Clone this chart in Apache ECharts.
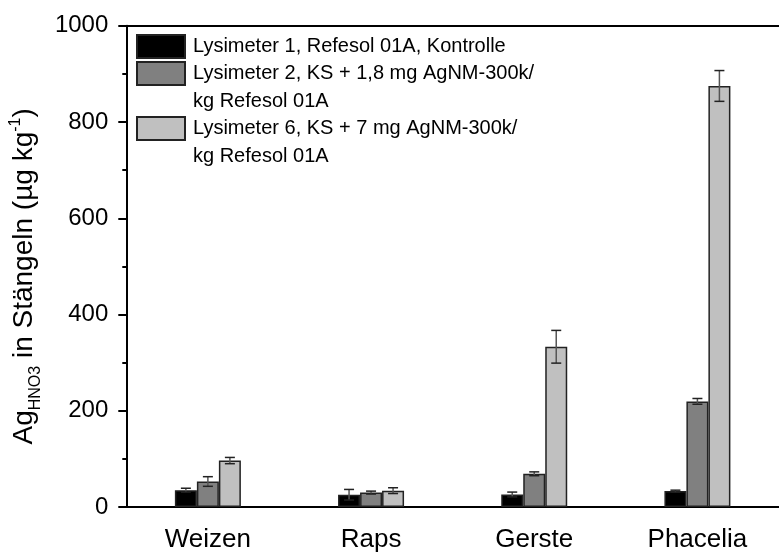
<!DOCTYPE html>
<html>
<head>
<meta charset="utf-8">
<script src="https://cdn.jsdelivr.net/npm/echarts@6/dist/echarts.min.js"></script>
<style>
  html, body { margin: 0; padding: 0; background: #fff; }
  #chart { width: 779px; height: 553px; }
</style>
</head>
<body>
<div id="chart"></div>
<script>
// Plant species (x categories)
const categories = ['Weizen', 'Raps', 'Gerste', 'Phacelia'];

// Series labels
const seriesNames = [
  'Lysimeter 1, Refesol 01A, Kontrolle',
  'Lysimeter 2, KS + 1,8 mg AgNM-300k/\nkg Refesol 01A',
  'Lysimeter 6, KS + 7 mg AgNM-300k/\nkg Refesol 01A'
];

// Ag (HNO3) in stems, µg/kg: means and standard deviations
const lys1Mean = [35, 25.5, 26, 33];
const lys1Sd   = [4, 11, 5, 2];
const lys2Mean = [53, 30, 69, 219.5];
const lys2Sd   = [10, 3, 4, 6];
const lys6Mean = [96.5, 34, 333, 875];
const lys6Sd   = [6.5, 6, 34, 32];

// Y axis ticks
const yMin = 0, yMax = 1000, yStep = 200;

const FONT = 'Liberation Sans, Arial, sans-serif';
const fills = ['#000000', '#808080', '#c0c0c0'];
const BAR_W = 22;

const means = [lys1Mean, lys2Mean, lys6Mean];
const sds = [lys1Sd, lys2Sd, lys6Sd];

const chart = echarts.init(document.getElementById('chart'));

const barSeries = means.map((m, s) => ({
  name: seriesNames[s],
  type: 'bar',
  data: m,
  barWidth: BAR_W,
  barGap: '0%',
  itemStyle: { color: fills[s], borderColor: '#222', borderWidth: 1.5 },
  z: 2
}));

const errSeries = means.map((m, s) => ({
  type: 'custom',
  name: 'err' + s,
  z: 5,
  silent: true,
  data: m.map((v, i) => [i, v, sds[s][i]]),
  renderItem: function (params, api) {
    const i = api.value(0), v = api.value(1), e = api.value(2);
    const hi = api.coord([i, v + e]);
    const lo = api.coord([i, v - e]);
    const x = hi[0] + (s - 1) * BAR_W;
    const cap = 5;
    return {
      type: 'group',
      children: [
        { type: 'line', shape: { x1: x, y1: hi[1], x2: x, y2: lo[1] },
          style: { stroke: '#555', lineWidth: 1.5 } },
        { type: 'line', shape: { x1: x - cap, y1: hi[1], x2: x + cap, y2: hi[1] },
          style: { stroke: '#222', lineWidth: 1.5 } },
        { type: 'line', shape: { x1: x - cap, y1: lo[1], x2: x + cap, y2: lo[1] },
          style: { stroke: '#222', lineWidth: 1.5 } }
      ]
    };
  }
}));

// One legend block per series; a leading blank line keeps the swatch
// level with the first line of a two-line label
const legendTops = [32.5, 31.5, 86.5];
const legends = seriesNames.map((n, s) => ({
  left: 136,
  top: legendTops[s],
  padding: 0,
  orient: 'vertical',
  selectedMode: false,
  itemWidth: 48,
  itemHeight: 23,
  itemGap: 0,
  icon: 'rect',
  data: [n],
  formatter: nm => (nm.indexOf('\n') >= 0 ? '\n' + nm : nm),
  textStyle: { fontFamily: FONT, fontSize: 20, color: '#000', lineHeight: 28, padding: [0, 0, 0, 3] }
}));

chart.setOption({
  animation: false,
  backgroundColor: '#fff',
  grid: { left: 125.5, top: 25.8, right: -3, bottom: 44.7 },
  legend: legends,
  xAxis: [{
    type: 'category',
    data: categories,
    axisLine: { lineStyle: { color: '#000', width: 2 } },
    axisTick: { alignWithLabel: true, length: 6, lineStyle: { color: '#000', width: 2 } },
    axisLabel: { color: '#000', fontFamily: FONT, fontSize: 26, margin: 20 },
    splitLine: { show: false }
  }, {
    // frame line along the top of the plot
    type: 'category',
    data: categories,
    position: 'top',
    axisLine: { lineStyle: { color: '#000', width: 2 } },
    axisTick: { show: false },
    axisLabel: { show: false },
    splitLine: { show: false }
  }],
  yAxis: {
    type: 'value',
    min: yMin, max: yMax, interval: yStep,
    axisLine: { show: true, lineStyle: { color: '#000', width: 2 } },
    axisTick: { show: true, length: 8, lineStyle: { color: '#000', width: 2 } },
    minorTick: { show: true, splitNumber: 2, length: 4, lineStyle: { color: '#000', width: 2 } },
    axisLabel: { color: '#000', fontFamily: FONT, fontSize: 24, margin: 18, formatter: v => String(v) },
    splitLine: { show: false },
    name: '{m|Ag}{sub|HNO3}{m| in Stängeln (µg kg}{sup|-1}{m|)}',
    nameLocation: 'middle',
    nameRotate: 90,
    nameGap: 84,
    nameTextStyle: {
      padding: [0, 20, 0, 0],
      rich: {
        m: { fontFamily: FONT, fontSize: 28, color: '#000', lineHeight: 32 },
        sub: { fontFamily: FONT, fontSize: 16, color: '#000', verticalAlign: 'bottom', lineHeight: 32, padding: [0, 0, -4, 0] },
        sup: { fontFamily: FONT, fontSize: 16, color: '#000', verticalAlign: 'top', lineHeight: 32 }
      }
    }
  },
  series: barSeries.concat(errSeries)
});
</script>
</body>
</html>
